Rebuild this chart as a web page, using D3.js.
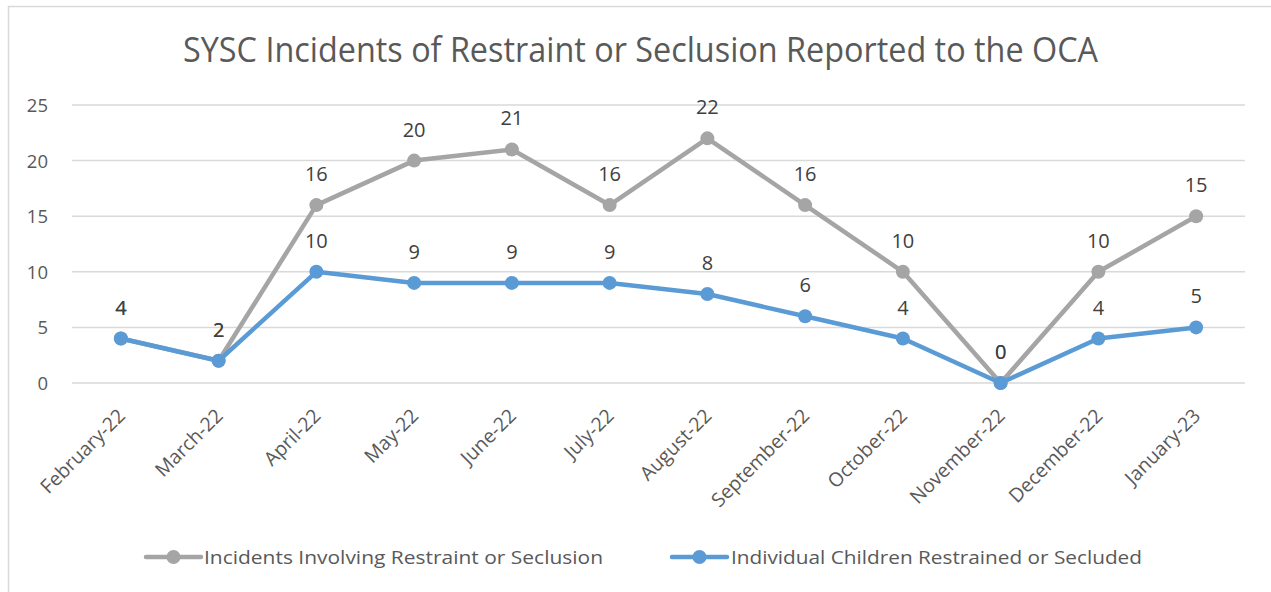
<!DOCTYPE html>
<html><head><meta charset="utf-8">
<script src="https://cdn.jsdelivr.net/npm/d3@7"></script>
<style>body{margin:0;background:#fff;} svg{display:block;} text{font-family:"Open Sans",sans-serif;}</style>
</head><body>
<svg id="c" width="1271" height="592"></svg>
<script>
const categories = ["February-22","March-22","April-22","May-22","June-22","July-22","August-22","September-22","October-22","November-22","December-22","January-23"];
const incidents = [4,2,16,20,21,16,22,16,10,0,10,15];
const children = [4,2,10,9,9,9,8,6,4,0,4,5];
const yTicks = [0,5,10,15,20,25];
const seriesNames = ["Incidents Involving Restraint or Seclusion","Individual Children Restrained or Secluded"];
const title = "SYSC Incidents of Restraint or Seclusion Reported to the OCA";

const svg = d3.select("#c");
svg.append("rect").attr("x",8.5).attr("y",6.5).attr("width",1300).attr("height",700)
  .attr("fill","#fff").attr("stroke","#D9D9D9").attr("stroke-width",1.5);

const x = d3.scalePoint().domain(categories).range([72,1245]).padding(0.5);
const y = d3.scaleLinear().domain([0,25]).range([383,105]);

// title
svg.append("text").attr("x",640.5).attr("y",62).attr("text-anchor","middle")
  .attr("font-size",34).attr("fill","#595959")
  .attr("textLength",915).attr("lengthAdjust","spacingAndGlyphs").text(title);

// gridlines
svg.append("g").selectAll("line").data(yTicks).join("line")
  .attr("x1",72).attr("x2",1245).attr("y1",d=>y(d)).attr("y2",d=>y(d))
  .attr("stroke","#D9D9D9").attr("stroke-width",1.5);

// y axis labels
const yAxis = d3.axisLeft(y).tickValues(yTicks).tickSize(0).tickPadding(0);
const gy = svg.append("g").attr("transform","translate(48,0)").call(yAxis);
gy.select(".domain").remove();
gy.selectAll("text").attr("font-size",18.5).attr("fill","#595959").attr("font-family","Open Sans, sans-serif").attr("dy","0.35em");

// x axis labels
const xAxis = d3.axisBottom(x).tickSize(0).tickPadding(0);
const gx = svg.append("g").attr("transform","translate(0,383)").call(xAxis);
gx.select(".domain").remove();
gx.selectAll("text").attr("font-size",19.5).attr("fill","#595959").attr("font-family","Open Sans, sans-serif")
  .attr("text-anchor","end").attr("dy",null).attr("y",0)
  .attr("transform","translate(5,34) rotate(-45)");

const series = [
  {name:seriesNames[0], values:incidents, color:"#A5A5A5"},
  {name:seriesNames[1], values:children, color:"#5B9BD5"}
];
const line = d3.line().x((d,i)=>x(categories[i])).y(d=>y(d));

series.forEach(s=>{
  const g = svg.append("g");
  g.append("path").datum(s.values).attr("d",line).attr("fill","none")
    .attr("stroke",s.color).attr("stroke-width",4.5).attr("stroke-linejoin","round").attr("stroke-linecap","round");
  g.selectAll("circle").data(s.values).join("circle")
    .attr("cx",(d,i)=>x(categories[i])).attr("cy",d=>y(d)).attr("r",7).attr("fill",s.color);
});
series.forEach(s=>{
  svg.append("g").selectAll("text").data(s.values).join("text")
    .attr("x",(d,i)=>x(categories[i])).attr("y",d=>y(d)-24)
    .attr("text-anchor","middle").attr("font-size",20).attr("fill","#404040").text(d=>d);
});

// legend
const leg = [{x0:146, tx:204, w:399},{x0:672, tx:731, w:411}];
series.forEach((s,i)=>{
  const L = leg[i];
  const g = svg.append("g");
  g.append("line").attr("x1",L.x0).attr("x2",L.x0+55).attr("y1",557).attr("y2",557)
    .attr("stroke",s.color).attr("stroke-width",4.5).attr("stroke-linecap","round");
  g.append("circle").attr("cx",L.x0+27.5).attr("cy",557).attr("r",7).attr("fill",s.color);
  g.append("text").attr("x",L.tx).attr("y",564).attr("font-size",19).attr("fill","#595959")
    .attr("textLength",L.w).attr("lengthAdjust","spacingAndGlyphs").text(s.name);
});
</script>
</body></html>
